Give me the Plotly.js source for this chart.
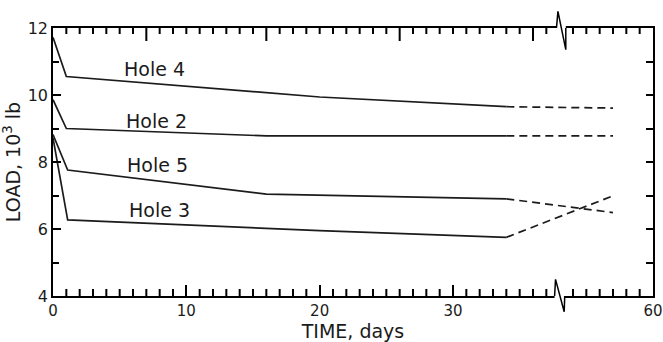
<!DOCTYPE html>
<html>
<head>
<meta charset="utf-8">
<script src="https://cdn.plot.ly/plotly-3.0.1.min.js"></script>
<style>html,body{margin:0;padding:0;background:#fff;}</style>
</head>
<body>
<div id="chart"></div>
<script>
// ---- data (true days / load in 10^3 lb) ----
var hole4Days = [0, 1, 20, 34];
var hole4Load = [11.72, 10.55, 9.94, 9.65];
var hole4DashDays = [34, 57];
var hole4DashLoad = [9.65, 9.61];

var hole2Days = [0, 1, 16, 34];
var hole2Load = [9.86, 9.0, 8.78, 8.78];
var hole2DashDays = [34, 57];
var hole2DashLoad = [8.78, 8.78];

var hole5Days = [0, 1.1, 16, 34];
var hole5Load = [8.82, 7.76, 7.04, 6.9];
var hole5DashDays = [34, 57];
var hole5DashLoad = [6.9, 6.49];

var hole3Days = [0, 1.1, 20, 34];
var hole3Load = [8.72, 6.27, 5.95, 5.75];
var hole3DashDays = [34, 57];
var hole3DashLoad = [5.75, 6.99];

var holeNames = ['Hole 4', 'Hole 2', 'Hole 5', 'Hole 3'];
var labelDays = [7.6, 7.76, 7.87, 7.95];
var labelLoad = [10.77, 9.23, 7.9, 6.58];

var xTickDays = [0, 10, 20, 30, 60];
var xTickText = ['0', '10', '20', '30', '60'];
var topMajorDays = [7, 16, 26, 36];
var yTickVals = [4, 6, 8, 10, 12];
var yTickText = ['4', '6', '8', '10', '12'];
var yMinorVals = [5, 7, 9, 11];
var yAllVals = [4, 5, 6, 7, 8, 9, 10, 11, 12];

// ---- broken time axis: days 38..53 are cut out ----
var breakStart = 38, breakGap = 15;
function disp(t) { return t <= breakStart ? t : t - breakGap; }
function dispArr(a) { return a.map(disp); }

var ink = 'black';
var lineInk = '#1b1b1b';
var fontFam = 'DejaVu Sans, Arial, sans-serif';
var plotH = 342 - 28 - 46;

function solid(xs, ys, name) {
  return {x: dispArr(xs), y: ys, mode: 'lines', name: name, hoverinfo: 'skip',
          line: {color: lineInk, width: 1.7}, showlegend: false};
}
function dashed(xs, ys, name) {
  return {x: dispArr(xs), y: ys, mode: 'lines', name: name, hoverinfo: 'skip',
          line: {color: lineInk, width: 1.7, dash: '8px,5px'}, showlegend: false};
}
function dummy(xa, ya) {
  return {x: [0], y: [4], xaxis: xa, yaxis: ya, mode: 'markers', marker: {opacity: 0, size: 1},
          hoverinfo: 'skip', showlegend: false};
}

var traces = [
  solid(hole4Days, hole4Load, 'Hole 4'), dashed(hole4DashDays, hole4DashLoad, 'Hole 4'),
  solid(hole2Days, hole2Load, 'Hole 2'), dashed(hole2DashDays, hole2DashLoad, 'Hole 2'),
  solid(hole5Days, hole5Load, 'Hole 5'), dashed(hole5DashDays, hole5DashLoad, 'Hole 5'),
  solid(hole3Days, hole3Load, 'Hole 3'), dashed(hole3DashDays, hole3DashLoad, 'Hole 3'),
  dummy('x', 'y2'), dummy('x', 'y3')
];

// day ticks (every day, skipping the break) drawn as x-referenced tick shapes
var tickShapes = [];
function tick(xv, bottom, len) {
  var f = len / plotH;
  tickShapes.push({type: 'line', xref: 'x', yref: 'paper', x0: xv, x1: xv,
                   y0: bottom ? 0 : 1, y1: bottom ? f : 1 - f, layer: 'above',
                   line: {color: ink, width: 2}});
}
for (var d = 1; d <= 59; d++) {
  if (d > 37 && d < 54) continue;
  if (xTickDays.indexOf(d) < 0) tick(disp(d), true, 7);
  tick(disp(d), false, topMajorDays.indexOf(d) < 0 ? 6 : 13);
}

var xMax = disp(60);

var layout = {
  width: 663, height: 342,
  margin: {l: 53, r: 10, t: 28, b: 46},
  showlegend: false,
  font: {family: fontFam, color: lineInk},
  xaxis: {
    range: [0, xMax], showgrid: false, zeroline: false,
    showline: true, mirror: true, linecolor: ink, linewidth: 1.5,
    ticks: 'inside', ticklen: 11, tickwidth: 2, tickcolor: ink,
    tickmode: 'array', tickvals: dispArr(xTickDays), ticktext: xTickText,
    tickfont: {size: 15, family: fontFam, color: lineInk},
    title: {text: 'TIME, days', font: {size: 19, family: fontFam, color: lineInk}, standoff: 4}
  },
  yaxis: {
    range: [4, 12], showgrid: false, zeroline: false,
    showline: true, linecolor: ink, linewidth: 1.5,
    ticks: 'inside', ticklen: 8, tickwidth: 1.5, tickcolor: ink,
    tickmode: 'array', tickvals: yTickVals, ticktext: yTickText,
    tickfont: {size: 16, family: fontFam, color: lineInk},
    title: {text: 'LOAD, 10<sup>3</sup> lb', font: {size: 19, family: fontFam, color: lineInk}, standoff: 6}
  },
  yaxis2: {
    overlaying: 'y', side: 'right', anchor: 'x', range: [4, 12], showgrid: false, zeroline: false,
    showline: true, linecolor: ink, linewidth: 1.5,
    ticks: 'inside', ticklen: 7, tickwidth: 1.5, tickcolor: ink,
    tickmode: 'array', tickvals: yAllVals, showticklabels: false
  },
  yaxis3: {
    overlaying: 'y', side: 'left', anchor: 'x', range: [4, 12], showgrid: false, zeroline: false,
    showline: false, ticks: 'inside', ticklen: 6, tickwidth: 1.5, tickcolor: ink,
    tickmode: 'array', tickvals: yMinorVals, showticklabels: false
  },
  annotations: holeNames.map(function (n, i) {
    return {x: labelDays[i], y: labelLoad[i], xref: 'x', yref: 'y', text: n, showarrow: false,
            font: {size: 19, family: fontFam, color: lineInk}};
  }),
  shapes: tickShapes.concat([
    // gaps in axis lines at the break
    {type: 'rect', xref: 'x', yref: 'paper', x0: 37.62, x1: 38.38, y0: -0.012, y1: 0.012,
     fillcolor: '#fff', line: {width: 0}, layer: 'above'},
    {type: 'rect', xref: 'x', yref: 'paper', x0: 37.76, x1: 38.46, y0: 0.988, y1: 1.012,
     fillcolor: '#fff', line: {width: 0}, layer: 'above'},
    // zig-zag break marks
    {type: 'path', xref: 'x', yref: 'paper', layer: 'above',
     path: 'M 37.62 0 L 37.69 0.062 L 38.34 -0.059 L 38.38 0',
     line: {color: ink, width: 1.5}},
    {type: 'path', xref: 'x', yref: 'paper', layer: 'above',
     path: 'M 37.76 1 L 37.87 1.062 L 38.46 0.919 L 38.46 1',
     line: {color: ink, width: 1.5}}
  ])
};

Plotly.newPlot('chart', traces, layout, {displayModeBar: false});
</script>
</body>
</html>
